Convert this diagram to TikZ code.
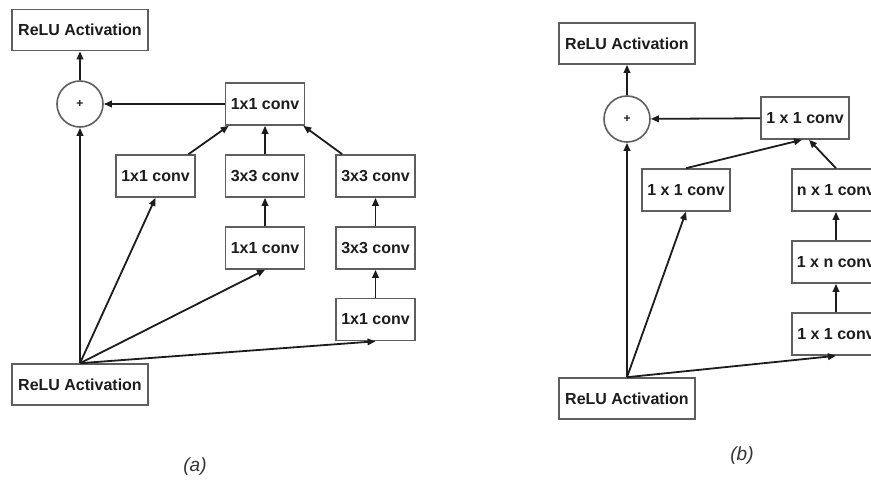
\documentclass[tikz,border=0pt]{standalone}
\usepackage{fontspec}
\setmainfont{Liberation Sans}
\usetikzlibrary{positioning,arrows.meta,calc}
\definecolor{edge}{HTML}{5E5E5E}
\definecolor{ink}{HTML}{1C1C1C}

\begin{document}
\begin{tikzpicture}[
  x=1pt, y=-1pt,
  font=\fontsize{16}{18}\selectfont\bfseries,
  >={Triangle[length=8pt,width=6.5pt]},
  relu/.style={draw=edge, line width=1.6pt, text=ink, inner sep=0pt,
               minimum width=136pt, minimum height=41pt},
  conva/.style={draw=edge, line width=1.6pt, text=ink, inner sep=0pt,
                minimum width=79pt, minimum height=42pt},
  convb/.style={conva, minimum width=88pt},
  adder/.style={circle, draw=edge, line width=1.6pt, text=ink,
                inner sep=0pt, minimum size=46pt,
                font=\fontsize{12}{13}\selectfont\bfseries},
  flow/.style={->, line width=1.8pt, draw=ink},
  caption/.style={font=\fontsize{19}{22}\selectfont\itshape, text=ink!90},
]
\clip (0,0) rectangle (871,480);

% (a)
\node[relu]  (reluTopA)  at (80,30)      {ReLU Activation};
\node[adder] (plusA)     at (80,104)     {+};
\node[conva] (convTopA)  at (265,104)    {1x1 conv};
\node[conva] (branch1A)  at (155.5,176)  {1x1 conv};
\node[conva] (branch2aA) at (265,176)    {3x3 conv};
\node[conva] (branch3aA) at (375.5,176)  {3x3 conv};
\node[conva] (branch2bA) at (265,248)    {1x1 conv};
\node[conva] (branch3bA) at (375.5,248)  {3x3 conv};
\node[conva] (branch3cA) at (375.5,319.5) {1x1 conv};
\node[relu]  (reluBotA)  at (80,384.5)   {ReLU Activation};
\node[caption] (capA) at (195,467) {(a)};

\foreach \a/\b in {plusA/reluTopA, reluBotA/plusA, reluBotA/branch1A,
                   reluBotA/branch2bA, reluBotA/branch3cA,
                   branch2bA/branch2aA, branch2aA/convTopA,
                   branch3cA/branch3bA, branch3bA/branch3aA}
  \draw[flow] (\a.north) -- (\b.south);
\draw[flow] (convTopA) -- (plusA);
\draw[flow] ([xshift=33pt]branch1A.north) -- ([xshift=4pt]convTopA.south west);
\draw[flow] ([xshift=7pt]branch3aA.north west) -- ([xshift=-2pt]convTopA.south east);

% (b)
\node[relu]  (reluTopB)  at (627,43.5)   {ReLU Activation};
\node[adder] (plusB)     at (627,119)    {+};
\node[convb] (convTopB)  at (805,118)    {1 x 1 conv};
\node[convb] (branch1B)  at (686,190)    {1 x 1 conv};
\node[convb] (branch2aB) at (836,190)    {n x 1 conv};
\node[convb] (branch2bB) at (836,262)    {1 x n conv};
\node[convb] (branch2cB) at (836,334)    {1 x 1 conv};
\node[relu]  (reluBotB)  at (627,398.5)  {ReLU Activation};
\node[caption] (capB) at (742,456) {(b)};

\foreach \a/\b in {plusB/reluTopB, reluBotB/plusB, reluBotB/branch1B,
                   reluBotB/branch2cB, branch2cB/branch2bB,
                   branch2bB/branch2aB}
  \draw[flow] (\a.north) -- (\b.south);
\draw[flow] (convTopB) -- (plusB);
\draw[flow] (branch1B.north) -- ([xshift=-3pt]convTopB.south);
\draw[flow] (branch2aB.north) -- ([xshift=4pt]convTopB.south);

\end{tikzpicture}
\end{document}
